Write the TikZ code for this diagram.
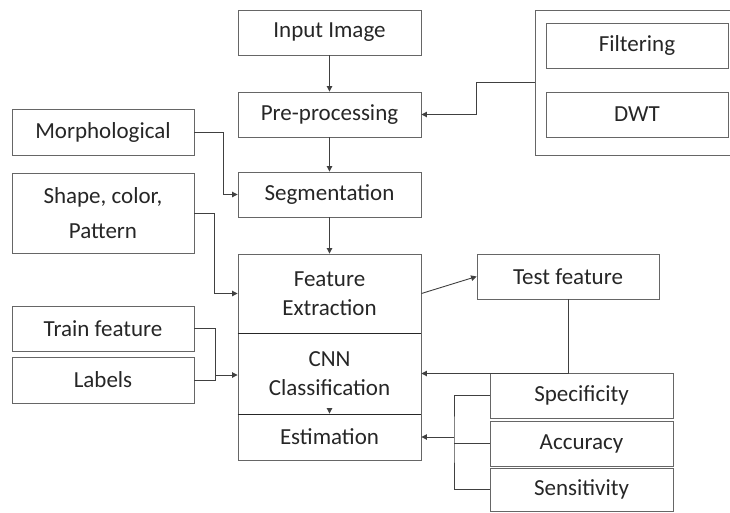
\documentclass[tikz,border=0pt]{standalone}
\usepackage{fontspec}
\setmainfont{Carlito}
\usetikzlibrary{arrows.meta}
\begin{document}
\begin{tikzpicture}[x=1pt,y=-1pt,font=\fontsize{23}{29}\selectfont,
 box/.style={draw=black!60,line width=.9pt,minimum width=183pt,minimum height=45pt,align=center,inner sep=0pt,text=black!85},
 link/.style={draw=black!75,line width=.9pt},
 arr/.style={link,-{Triangle[length=5.5pt,width=5.5pt]}}]
\useasboundingbox (0,0) rectangle (730,512);
% main column
\node[box] (input) at (329.5,32.5){Input Image};\node[box] (prep) at (329.5,114.5){Pre-processing};\node[box] (seg) at (329.5,194.5){Segmentation};
\node[box,minimum height=79pt] (feat) at (329.5,293.5){Feature\\Extraction};\node[box,minimum height=81pt] (cnn) at (329.5,373.5){CNN\\Classification};\node[box,minimum height=46pt] (est) at (329.5,437){Estimation};
\draw[black!85,line width=1pt] (feat.south west)--(feat.south east);\draw[black!85,line width=1pt] (cnn.south west)--(cnn.south east);
% left inputs
\node[box,minimum width=182pt,minimum height=46pt] (morph) at (103,132){Morphological};\node[box,minimum width=182pt,minimum height=80pt] (shape) at (103,213){Shape, color,\\[6pt]Pattern};
\node[box,minimum width=182pt] (train) at (103,328.5){Train feature};\node[box,minimum width=182pt,minimum height=46pt] (labels) at (103,380){Labels};
% right side
\node[box,minimum width=205pt,minimum height=145pt] (tools) at (637.5,82.5){};\node[box,minimum width=182pt] (filt) at (637,45.5){Filtering};\node[box,minimum width=182pt] (dwt) at (637,114.5){DWT};
\node[box,minimum width=182pt] (test) at (568,276.5){Test feature};
\node[box] (spec) at (581.5,395.5){Specificity};\node[box] (acc) at (581.5,443.5){Accuracy};\node[box,minimum height=43pt] (sens) at (581.5,489.5){Sensitivity};
% connectors
\draw[arr] (input)--(prep);\draw[arr] (prep)--(seg);\draw[arr] (seg)--(feat);\draw[arr] ([yshift=5pt]cnn.south)--(est.north);
\draw[arr] (tools.west)--++(-58,0)|-(prep.east);
\draw[arr] (morph.east)--++(29,0)|-(seg.west);\draw[arr] (shape.east)--++(20,0)|-(feat.west);
\coordinate (tl) at (215,375);\draw[link] (train.east)-|(tl);\draw[link] (labels.east)-|(tl);\draw[arr] (tl)--(cnn.west|-tl);
\draw[arr] (feat.east)--(test.west);\draw[arr] (test.south)|-(cnn.east);
\coordinate (sj) at (454,437);\draw[link] (spec.west)-|(sj)|-(sens.west);\draw[link] (acc.west)--(acc.west-|sj);\draw[arr] (sj)--(est.east);
\end{tikzpicture}
\end{document}
